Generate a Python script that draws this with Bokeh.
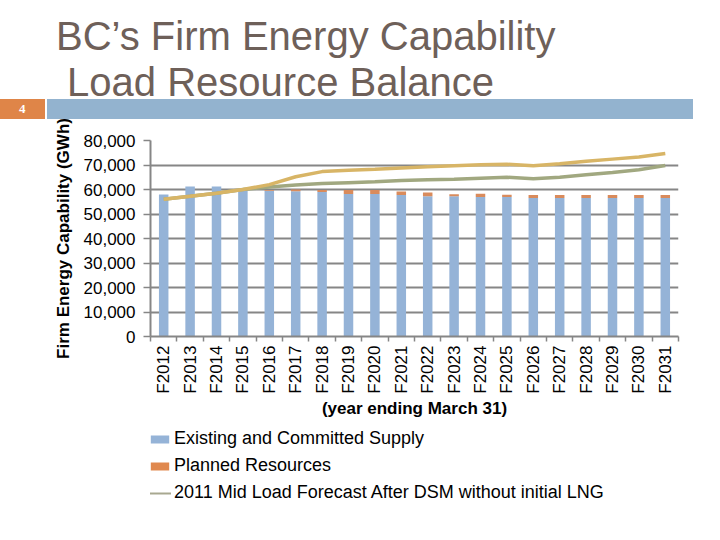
from math import pi
from bokeh.plotting import figure
from bokeh.models import (ColumnDataSource, FixedTicker, Legend, LegendItem,
                          NumeralTickFormatter, Range1d, Div)
from bokeh.layouts import column
from bokeh.embed import file_html
from bokeh.resources import INLINE

# ---------------- data ----------------
title_line1 = "BC\u2019s Firm Energy Capability"
title_line2 = "Load Resource Balance"
slide_number = "4"

years = ["F2012", "F2013", "F2014", "F2015", "F2016", "F2017", "F2018", "F2019",
         "F2020", "F2021", "F2022", "F2023", "F2024", "F2025", "F2026", "F2027",
         "F2028", "F2029", "F2030", "F2031"]

existing_supply = [58000, 61200, 61200, 59700, 59400, 59300, 59000, 58200, 58200, 57800,
                   57200, 57200, 56900, 56900, 56500, 56500, 56500, 56500, 56500, 56500]
planned_resources = [0, 0, 0, 0, 300, 700, 800, 1600, 1600, 1400,
                     1600, 900, 1400, 1000, 1300, 1300, 1300, 1300, 1300, 1300]
load_forecast_lng = [56000, 57200, 58500, 60000, 62000, 65200, 67300, 67900, 68300, 68800,
                     69300, 69700, 70100, 70300, 69700, 70500, 71500, 72400, 73300, 74700]
load_forecast_no_lng = [56000, 57200, 58500, 60000, 61000, 61800, 62400, 62800, 63200, 63700,
                        64000, 64200, 64600, 65000, 64400, 65000, 66000, 66900, 68100, 69800]

y_ticks = [0, 10000, 20000, 30000, 40000, 50000, 60000, 70000, 80000]

label_existing = "Existing and Committed Supply"
label_planned = "Planned Resources"
label_load = "2011 Mid Load Forecast After DSM without initial LNG"
x_axis_title = "(year ending March 31)"
y_axis_title = "Firm Energy Capability (GWh)"

# ---------------- styles ----------------
FONT = "Liberation Sans"
BLUE = "#95b3d7"
ORANGE = "#d98b5c"
LEG_ORANGE = "#e0884e"
GOLD = "#d8b566"
GREEN = "#a1a880"
LEG_GREEN = "#a8a890"
GRID = "#868686"

xs = list(range(1, len(years) + 1))
tops = [e + p_ for e, p_ in zip(existing_supply, planned_resources)]
src = ColumnDataSource(dict(x=xs, existing=existing_supply, planned=planned_resources,
                            top=tops, lng=load_forecast_lng, nolng=load_forecast_no_lng))

# ---------------- header ----------------
header_html = f"""
<div style="position:relative;width:712px;height:119px;font-family:'{FONT}',Arial,sans-serif;">
  <div style="position:absolute;left:56px;top:13px;font-size:40px;line-height:46px;color:#6e6059;white-space:nowrap;">{title_line1}<br>&nbsp;{title_line2}</div>
  <div style="position:absolute;left:0px;top:99px;width:45px;height:20px;background:#df8548;"></div>
  <div style="position:absolute;left:19px;top:102px;color:#ffffff;font-family:'Liberation Serif',serif;font-weight:bold;font-size:13px;line-height:14px;">{slide_number}</div>
  <div style="position:absolute;left:47px;top:99px;width:646px;height:20px;background:#93b3cf;"></div>
</div>
"""
header = Div(text=header_html, width=712, height=119, margin=(0, 0, 0, 0))

# ---------------- main figure ----------------
p = figure(width=712, height=305, x_range=Range1d(0.5, len(years) + 0.5),
           y_range=Range1d(0, 80000), output_backend="svg", toolbar_location=None,
           min_border_left=150, min_border_right=34, min_border_top=21,
           min_border_bottom=88, margin=(0, 0, 0, 0))
p.outline_line_color = None
p.background_fill_color = "white"

r_exist = p.vbar(x="x", bottom=0, top="existing", width=0.36, source=src,
                 fill_color=BLUE, line_color=None)
r_plan = p.vbar(x="x", bottom="existing", top="top", width=0.36, source=src,
                fill_color=ORANGE, line_color=None)
r_nolng = p.line(x="x", y="nolng", source=src, line_color=GREEN, line_width=3.5)
r_lng = p.line(x="x", y="lng", source=src, line_color=GOLD, line_width=3.5)

# x axis
p.xaxis.ticker = FixedTicker(ticks=xs, minor_ticks=[i + 0.5 for i in range(0, len(years) + 1)])
p.xaxis.major_label_overrides = {x: lab for x, lab in zip(xs, years)}
p.xaxis.major_label_orientation = pi / 2
p.xaxis.major_tick_out = 0
p.xaxis.major_tick_in = 0
p.xaxis.minor_tick_out = 5
p.xaxis.minor_tick_in = 0
p.xaxis.minor_tick_line_color = GRID
p.xaxis.minor_tick_line_width = 1.5
p.xaxis.major_label_standoff = 4
p.xaxis.axis_label = x_axis_title
p.xaxis.axis_label_standoff = 2

# y axis
p.yaxis.ticker = FixedTicker(ticks=y_ticks)
p.yaxis.formatter = NumeralTickFormatter(format="0,0")
p.yaxis.major_tick_out = 7
p.yaxis.major_tick_in = 0
p.yaxis.minor_tick_line_color = None
p.yaxis.major_label_standoff = 8
p.yaxis.axis_label = y_axis_title
p.yaxis.axis_label_standoff = 8

for ax in (p.xaxis, p.yaxis):
    ax.axis_line_color = GRID
    ax.axis_line_width = 2
    ax.major_tick_line_color = GRID
    ax.major_tick_line_width = 1.5
    ax.major_label_text_font = FONT
    ax.major_label_text_font_size = "17px"
    ax.major_label_text_color = "black"
    ax.axis_label_text_font = FONT
    ax.axis_label_text_font_size = "17px"
    ax.axis_label_text_font_style = "bold"
    ax.axis_label_text_color = "black"

p.xgrid.visible = False
p.ygrid.grid_line_color = GRID
p.ygrid.grid_line_width = 2

# ---------------- legend figure ----------------
q = figure(width=712, height=108, x_range=Range1d(0, 1), y_range=Range1d(0, 1),
           output_backend="svg", toolbar_location=None, min_border=0,
           margin=(0, 0, 0, 0))
q.axis.visible = False
q.grid.visible = False
q.outline_line_color = None
# legend-only swatches, placed outside the visible range
swatch = ColumnDataSource(dict(x=[-10, -9], y=[-10, -10]))
g_exist = q.rect(x="x", y="y", width=0.1, height=0.1, source=swatch,
                 fill_color=BLUE, line_color=None)
g_plan = q.rect(x="x", y="y", width=0.1, height=0.1, source=swatch,
                fill_color=LEG_ORANGE, line_color=None)
g_load = q.line(x="x", y="y", source=swatch, line_color=LEG_GREEN, line_width=2)

legend = Legend(items=[LegendItem(label=label_existing, renderers=[g_exist]),
                       LegendItem(label=label_planned, renderers=[g_plan]),
                       LegendItem(label=label_load, renderers=[g_load])],
                location=(-2, 29), orientation="vertical",
                glyph_width=23, glyph_height=10, label_height=20, spacing=6,
                padding=0, margin=0, border_line_color=None,
                background_fill_alpha=0, label_text_font=FONT,
                label_text_font_size="18px", label_text_color="black",
                label_standoff=3)
q.add_layout(legend)

layout = column(header, p, q, spacing=0, margin=(0, 0, 0, 0))
open("out.html", "w").write(file_html(layout, INLINE))
